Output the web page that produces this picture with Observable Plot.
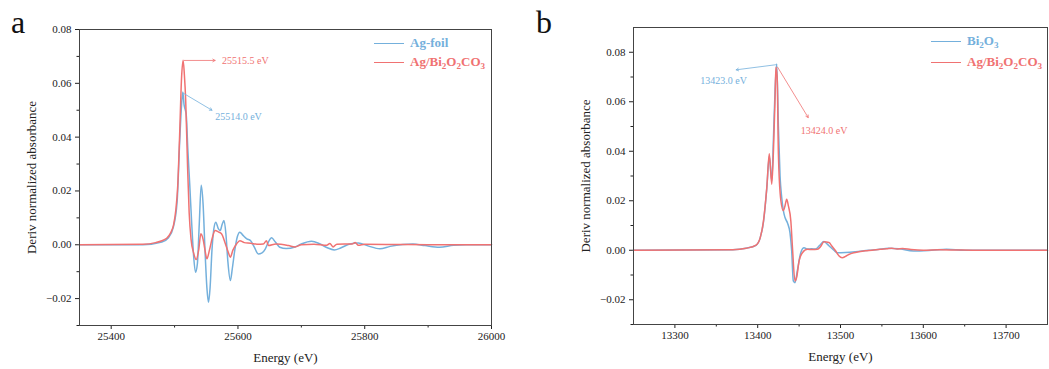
<!DOCTYPE html>
<html><head><meta charset="utf-8">
<script src="https://cdn.jsdelivr.net/npm/d3@7"></script>
<script src="https://cdn.jsdelivr.net/npm/@observablehq/plot@0.6"></script>
<style>
body{margin:0;background:#fff;}
#wrap{position:relative;width:1049px;height:369px;overflow:hidden;font-family:"Liberation Serif","Times New Roman",serif;}
.panel{position:absolute;top:0;}
.letter{position:absolute;font-size:32px;line-height:32px;color:#111;}
.lrow{position:absolute;height:20px;display:flex;align-items:center;font-weight:bold;font-size:13px;white-space:nowrap;}
.lrow .sw{width:30px;height:0;border-top:1.5px solid;margin-right:6px;}
sub{font-size:0.7em;vertical-align:-0.35em;line-height:0;}
svg g[aria-label$="axis label"], svg g[aria-label$="axis label"] text{font-size:13px;}
</style>
</head><body>
<div id="wrap">
  <div class="letter" style="left:11px;top:6px;">a</div>
  <div class="letter" style="left:536px;top:6px;">b</div>
</div>
<script>
// ---------- data (panel a: Ag K-edge) ----------
const agFoilE = [25350,25450,25480,25490,25498,25504,25508,25511,25513,25515,25517,25518.5,25521,25524,25527,25530,25533,25536,25539,25542,25545,25548,25551,25553.5,25556,25559,25562,25565,25569,25572,25575,25578,25581,25584,25588,25591,25595,25599,25603,25608,25614,25620,25626,25632,25638,25643,25648,25653,25659,25666,25676,25690,25700,25716,25728,25740,25752,25762,25775,25790,25805,25824,25840,25860,25876,25895,25918,25940,25960,26000];
const agFoilD = [0,0,0.001,0.0025,0.0065,0.016,0.038,0.052,0.0568,0.052,0.05,0.048,0.035,0.022,0.008,-0.004,-0.0102,-0.007,0.008,0.0221,0.015,-0.002,-0.016,-0.0214,-0.016,-0.002,0.006,0.0084,0.006,0.0053,0.0075,0.009,0.004,-0.006,-0.0133,-0.009,-0.002,0.003,0.0047,0.0035,0.0022,0.0015,-0.001,-0.0034,-0.003,-0.0016,0.001,0.0026,0.001,-0.0009,-0.0014,-0.0008,0.0003,0.0013,0.0005,-0.001,-0.0019,-0.0012,0.0002,0.0007,-0.0004,-0.0015,-0.0006,0.0001,0.0003,-0.0003,-0.0009,-0.0002,0,0];
const agBiE = [25350,25450,25470,25480,25488,25494,25498.5,25502,25505,25508,25511,25513.5,25515.5,25517.5,25520.5,25523,25526,25530,25534,25538,25541.5,25545,25548,25551,25555,25560,25564,25569,25574,25580,25585,25588,25592,25598,25603,25610,25620,25630,25640,25645,25648,25660,25680,25690,25700,25720,25740,25745,25750,25756,25780,25785,25790,25800,25850,25900,26000];
const agBiD = [0,0.0002,0.0008,0.0015,0.0025,0.0045,0.0075,0.013,0.022,0.041,0.062,0.0686,0.063,0.054,0.029,0.012,0.002,-0.003,-0.0055,-0.002,0.0041,0.002,-0.002,-0.0052,-0.002,0.003,0.0053,0.0048,0.0041,0.0005,-0.003,-0.0046,-0.002,0.0004,0.0015,0.0008,0.0006,0.0002,0.0003,0.0015,-0.0003,0.0003,-0.0003,-0.0008,0,0.0002,-0.0002,0.0005,-0.0008,0.0002,0.0003,0.0008,-0.0002,0.0002,0.0001,0,0];

// ---------- data (panel b: Bi L3-edge) ----------
const bi2o3E = [13250,13370,13386,13398,13403,13407,13411,13414,13417,13419,13421,13423,13425,13427,13429,13431,13433,13436,13439,13441,13443,13445,13448,13452,13456,13460,13465,13470,13475,13480,13484,13488,13492,13496,13506,13518,13534,13545,13558,13570,13588,13610,13628,13650,13700,13750];
const bi2o3D = [0,0.0002,0.0008,0.002,0.005,0.0115,0.025,0.038,0.028,0.045,0.065,0.0753,0.05,0.03,0.0213,0.016,0.0132,0.011,0.007,0,-0.0124,-0.0131,-0.008,-0.001,0.001,0.0005,0.0006,0.0005,0.002,0.0035,0.0025,0.0012,0,-0.001,-0.0009,-0.0006,0,0.0003,0.0008,0.0006,-0.0003,0,0.0004,0,0,0];
const agBi2E = [13250,13370,13386,13398,13403,13407,13411,13414,13417,13419,13421,13422,13423.5,13425,13428,13431,13433,13435,13437,13440,13442,13445,13447,13450,13454,13460,13466,13472,13476,13480,13486,13490,13494,13498,13502,13506,13510,13516,13522,13530,13538,13548,13556,13562,13568,13575,13585,13600,13620,13640,13660,13700,13750];
const agBi2D = [0,0.0002,0.0008,0.0021,0.005,0.0119,0.0254,0.039,0.0267,0.04,0.062,0.0739,0.07,0.0389,0.02,0.016,0.018,0.0206,0.018,0.0119,0.001,-0.0124,-0.011,-0.0043,-0.001,0.0004,0.0003,0.0004,0.0015,0.0034,0.0031,0.0015,-0.0002,-0.0022,-0.003,-0.0025,-0.0017,-0.001,-0.0006,-0.0002,0,0.0004,0.0006,0.0008,0.0005,0.0007,0.0003,0,0.0002,0.0001,0,0,0];

// ---------- ticks ----------
const xTicksA = [25400,25600,25800,26000], xMinorA = [25500,25700,25900];
const xTicksB = [13300,13400,13500,13600,13700], xMinorB = [13350,13450,13550,13650];
const yTicks = [-0.02,0,0.02,0.04,0.06,0.08], yMinor = [-0.03,-0.01,0.01,0.03,0.05,0.07];

// ---------- annotations ----------
const annA = [
  {x1:25515.5,y1:0.0685,x2:25564,y2:0.0685,tx:25575,ty:0.0685,label:"25515.5 eV",s:"red",anchor:"start"},
  {x1:25514,y1:0.0563,x2:25559,y2:0.050,tx:25564,ty:0.0474,label:"25514.0 eV",s:"blue",anchor:"start"}
];
const annB = [
  {x1:13423,y1:0.0750,x2:13374,y2:0.0729,tx:13387,ty:0.0685,label:"13423.0 eV",s:"blue",anchor:"end"},
  {x1:13424,y1:0.0740,x2:13461,y2:0.0536,tx:13452,ty:0.0483,label:"13424.0 eV",s:"red",anchor:"start"}
];

const BLUE = "#74b0dc", RED = "#f07272";
const col = s => s === "blue" ? BLUE : RED;
const rows = (E, D) => E.map((e, i) => ({e, d: D[i]}));
const fmtY = d3.format(".2f"), fmtX = d3.format("d");

function panel({width, ml, mr, mt, mb, xdom, ydom, xt, xm, blueRows, redRows, ann}) {
  return Plot.plot({
    width, height: 369, marginLeft: ml, marginRight: mr, marginTop: mt, marginBottom: mb,
    style: {fontFamily: "'Liberation Serif', 'Times New Roman', serif", fontSize: "11px", color: "#222", background: "transparent", overflow: "visible"},
    x: {domain: xdom}, y: {domain: ydom},
    marks: [
      Plot.axisX(xt, {tickSize: 4, tickPadding: 3, tickFormat: fmtX, label: "Energy (eV)", labelAnchor: "center", labelArrow: "none", labelOffset: 36}),
      Plot.axisX(xm, {tickSize: 2.5, tickFormat: () => "", label: null}),
      Plot.axisY(yTicks, {tickSize: 4, tickPadding: 4, tickFormat: fmtY, label: "Deriv normalized absorbance", labelAnchor: "center", labelArrow: "none", labelOffset: 53}),
      Plot.axisY(yMinor, {tickSize: 2.5, tickFormat: () => "", label: null}),
      Plot.line(blueRows, {x: "e", y: "d", stroke: BLUE, strokeWidth: 1.5, curve: "monotone-x"}),
      Plot.line(redRows, {x: "e", y: "d", stroke: RED, strokeWidth: 1.5, curve: "monotone-x"}),
      Plot.arrow(ann, {x1: "x1", y1: "y1", x2: "x2", y2: "y2", stroke: d => col(d.s), strokeWidth: 0.8, headLength: 5}),
      Plot.text(ann.filter(d => d.anchor === "start"), {x: "tx", y: "ty", text: "label", fill: d => col(d.s), textAnchor: "start", fontSize: 10}),
      Plot.text(ann.filter(d => d.anchor === "end"), {x: "tx", y: "ty", text: "label", fill: d => col(d.s), textAnchor: "end", fontSize: 10}),
      Plot.frame({stroke: "#444", strokeWidth: 1})
    ]
  });
}

const wrap = document.getElementById("wrap");
const pa = panel({width: 520, ml: 79, mr: 29, mt: 29, mb: 44, xdom: [25350, 26000], ydom: [-0.03, 0.08],
  xt: xTicksA, xm: xMinorA, blueRows: rows(agFoilE, agFoilD), redRows: rows(agBiE, agBiD), ann: annA});
pa.classList.add("panel"); pa.style.left = "0px";
wrap.appendChild(pa);

const pb = panel({width: 519, ml: 103, mr: 2, mt: 27, mb: 45, xdom: [13250, 13750], ydom: [-0.03, 0.09],
  xt: xTicksB, xm: xMinorB, blueRows: rows(bi2o3E, bi2o3D), redRows: rows(agBi2E, agBi2D), ann: annB});
pb.classList.add("panel"); pb.style.left = "530px";
wrap.appendChild(pb);

// ---------- legends ----------
const legendA = [{name: "Ag-foil", s: "blue"}, {name: "Ag/Bi<sub>2</sub>O<sub>2</sub>CO<sub>3</sub>", s: "red"}];
const legendB = [{name: "Bi<sub>2</sub>O<sub>3</sub>", s: "blue"}, {name: "Ag/Bi<sub>2</sub>O<sub>2</sub>CO<sub>3</sub>", s: "red"}];
function legend(items, left, tops) {
  items.forEach((it, i) => {
    const r = document.createElement("div");
    r.className = "lrow";
    r.style.left = left + "px"; r.style.top = tops[i] + "px"; r.style.color = col(it.s);
    r.innerHTML = `<span class="sw" style="border-color:${col(it.s)}"></span><span>${it.name}</span>`;
    wrap.appendChild(r);
  });
}
legend(legendA, 374, [33, 52]);
legend(legendB, 931, [31, 52]);
</script>
</body></html>
